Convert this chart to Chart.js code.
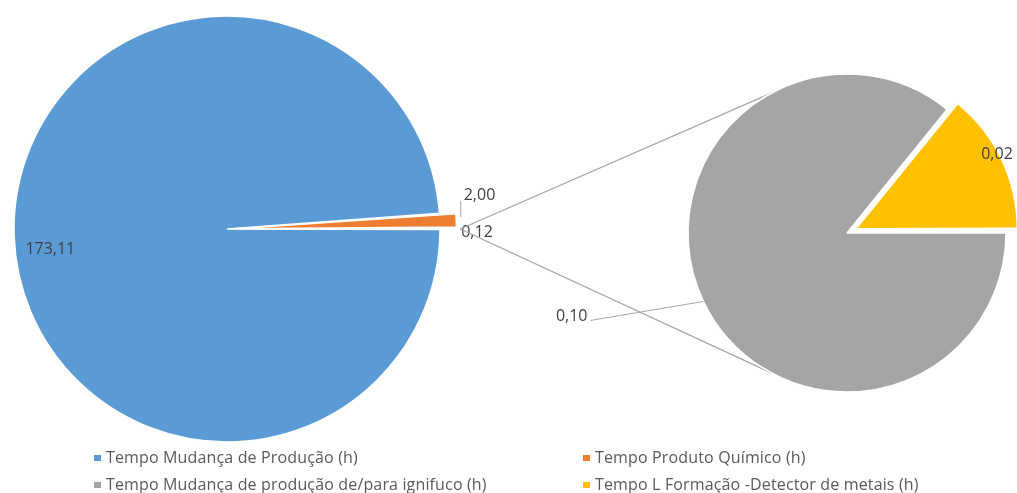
<!DOCTYPE html>
<html lang="pt-BR">
<head>
<meta charset="utf-8">
<title>Pizza de pizza</title>
<script src="https://cdn.jsdelivr.net/npm/chart.js@4.4.1/dist/chart.umd.min.js"></script>
<style>
  body { margin: 0; width: 1017px; height: 493px; background: #fff; position: relative; overflow: hidden; font-family: "Open Sans", sans-serif; }
  canvas { position: absolute; top: 0; }
  #pizzaPrincipal { left: 0; }
  #pizzaSecundaria { left: 440px; }
  .legenda { position: absolute; font-size: 16px; letter-spacing: 0.15px; color: #595959; white-space: nowrap; line-height: 20px; }
  .legenda i { display: inline-block; width: 7px; height: 6px; margin-right: 5px; vertical-align: middle; position: relative; top: -1px; }
</style>
</head>
<body>
<canvas id="pizzaPrincipal" width="520" height="458"></canvas>
<canvas id="pizzaSecundaria" width="577" height="466"></canvas>
<div id="legenda"></div>
<script>
const categorias = [
    'Tempo Mudança de Produção (h)',
    'Tempo Produto Químico (h)',
    'Tempo Mudança de produção de/para ignifuco (h)',
    'Tempo L Formação -Detector de metais (h)'
];
// pizza principal: as duas primeiras categorias (a terceira fatia é a soma da secundária)
const valoresPrincipal = [173.11, 2.00];
// pizza secundária: ignifuco e detector de metais
const valoresSecundario = [0.103, 0.017];
const cores = ['#5b9bd5', '#ed7d31', '#a5a5a5', '#ffc000'];

const formatar = v => v.toFixed(2).replace('.', ',');
const soma = lista => lista.reduce((a, b) => a + b, 0);

const outros = soma(valoresSecundario);
const dadosPrincipal = [...valoresPrincipal, outros];
const totalPrincipal = soma(dadosPrincipal);
// gira a pizza para a fatia "outros" ficar centrada às 3 horas
const rotacaoPrincipal = 90 + (outros / totalPrincipal) * 180;

const corTexto = '#404040';
const corLinha = '#a6a6a6';
const fonteRotulo = '16px "Open Sans"';
const deslocSecundaria = 440; // posição horizontal do canvas da direita

// centro e raio de uma fatia já explodida (mesma conta do ArcElement do Chart.js 4)
function fatia(arc) {
    const p = arc.getProps(['x', 'y', 'startAngle', 'endAngle', 'outerRadius', 'circumference'], true);
    const o = (arc.options.offset || 0) / 4;
    const meio = (p.startAngle + p.endAngle) / 2;
    const fix = 1 - Math.sin(Math.min(Math.PI, p.circumference || 0));
    const d = o * (1 + fix);
    return {
        x: p.x + Math.cos(meio) * d,
        y: p.y + Math.sin(meio) * d,
        r: p.outerRadius + o,
        raio: p.outerRadius,
        cx: p.x,
        cy: p.y,
        meio: meio
    };
}

function ponto(f, fator) {
    return { x: f.x + Math.cos(f.meio) * f.r * fator, y: f.y + Math.sin(f.meio) * f.r * fator };
}

function linha(ctx, x1, y1, x2, y2) {
    ctx.beginPath();
    ctx.moveTo(x1, y1);
    ctx.lineTo(x2, y2);
    ctx.stroke();
}

const rotulosPrincipal = {
    id: 'rotulosPrincipal',
    afterDatasetsDraw(chart) {
        const ctx = chart.ctx;
        const arcos = chart.getDatasetMeta(0).data;
        ctx.save();
        ctx.font = fonteRotulo;
        ctx.fillStyle = corTexto;
        ctx.strokeStyle = corLinha;
        ctx.lineWidth = 1;
        ctx.textBaseline = 'middle';

        // fatia grande: rótulo dentro, perto da borda
        const a = ponto(fatia(arcos[0]), 0.83);
        ctx.textAlign = 'center';
        ctx.fillText(formatar(dadosPrincipal[0]), a.x, a.y + 14);

        // produto químico: linha guia vertical e rótulo acima
        const b = ponto(fatia(arcos[1]), 1);
        linha(ctx, b.x - 4, b.y - 3, b.x - 4, b.y - 19);
        ctx.textAlign = 'left';
        ctx.fillText(formatar(dadosPrincipal[1]), b.x - 1, b.y - 25);

        // outros
        const c = ponto(fatia(arcos[2]), 1);
        ctx.fillText(formatar(dadosPrincipal[2]), c.x + 1, c.y + 3);
        ctx.restore();
    }
};

const graficoPrincipal = new Chart(document.getElementById('pizzaPrincipal'), {
    type: 'pie',
    data: {
        labels: [categorias[0], categorias[1], 'Outros'],
        datasets: [{
            data: dadosPrincipal,
            backgroundColor: [cores[0], cores[1], cores[2]],
            borderColor: '#ffffff',
            borderWidth: [1.5, 1.5, 0],
            offset: [0, 34, 27],
            radius: 213,
            rotation: rotacaoPrincipal
        }]
    },
    options: {
        responsive: false,
        animation: false,
        events: [],
        layout: { padding: { right: 66 } },
        plugins: { legend: { display: false }, tooltip: { enabled: false } }
    },
    plugins: [rotulosPrincipal]
});

const anguloLigacao = 62 * Math.PI / 180;

const rotulosSecundaria = {
    id: 'rotulosSecundaria',
    beforeDatasetsDraw(chart) {
        // linhas que ligam a fatia "outros" à pizza da direita
        const ctx = chart.ctx;
        const origem = ponto(fatia(graficoPrincipal.getDatasetMeta(0).data[2]), 1);
        const ox = origem.x - deslocSecundaria;
        const cinza = fatia(chart.getDatasetMeta(0).data[0]);
        ctx.save();
        ctx.strokeStyle = corLinha;
        ctx.lineWidth = 1.3;
        [Math.PI + anguloLigacao, Math.PI - anguloLigacao].forEach(ang => {
            linha(ctx, ox, origem.y, cinza.cx + Math.cos(ang) * cinza.raio, cinza.cy + Math.sin(ang) * cinza.raio);
        });
        ctx.restore();
    },
    afterDatasetsDraw(chart) {
        const ctx = chart.ctx;
        const arcos = chart.getDatasetMeta(0).data;
        ctx.save();
        ctx.font = fonteRotulo;
        ctx.fillStyle = corTexto;
        ctx.strokeStyle = corLinha;
        ctx.lineWidth = 1;
        ctx.textBaseline = 'middle';

        // ignifuco: rótulo fora, com linha guia
        const e = ponto(fatia(arcos[0]), 1);
        const lx = e.x - 113, ly = e.y + 19;
        linha(ctx, e.x, e.y, lx, ly);
        ctx.textAlign = 'right';
        ctx.fillText(formatar(valoresSecundario[0]), lx - 3, ly - 4);

        // detector de metais: rótulo dentro, na borda
        const y = ponto(fatia(arcos[1]), 0.97);
        ctx.textAlign = 'center';
        ctx.fillText(formatar(valoresSecundario[1]), y.x - 9, y.y - 3);
        ctx.restore();
    }
};

new Chart(document.getElementById('pizzaSecundaria'), {
    type: 'pie',
    data: {
        labels: [categorias[2], categorias[3]],
        datasets: [{
            data: valoresSecundario,
            backgroundColor: [cores[2], cores[3]],
            borderColor: '#ffffff',
            borderWidth: 1.5,
            offset: [0, 40],
            radius: 159,
            rotation: 90
        }]
    },
    options: {
        responsive: false,
        animation: false,
        events: [],
        layout: { padding: { left: 237 } },
        plugins: { legend: { display: false }, tooltip: { enabled: false } }
    },
    plugins: [rotulosSecundaria]
});

// legenda em duas colunas
const posLegenda = [[94, 447], [583, 447], [94, 474], [583, 474]];
const legenda = document.getElementById('legenda');
categorias.forEach((nome, i) => {
    const item = document.createElement('div');
    item.className = 'legenda';
    item.style.left = posLegenda[i][0] + 'px';
    item.style.top = posLegenda[i][1] + 'px';
    item.innerHTML = '<i style="background:' + cores[i] + '"></i>' + nome;
    legenda.appendChild(item);
});
</script>
</body>
</html>
